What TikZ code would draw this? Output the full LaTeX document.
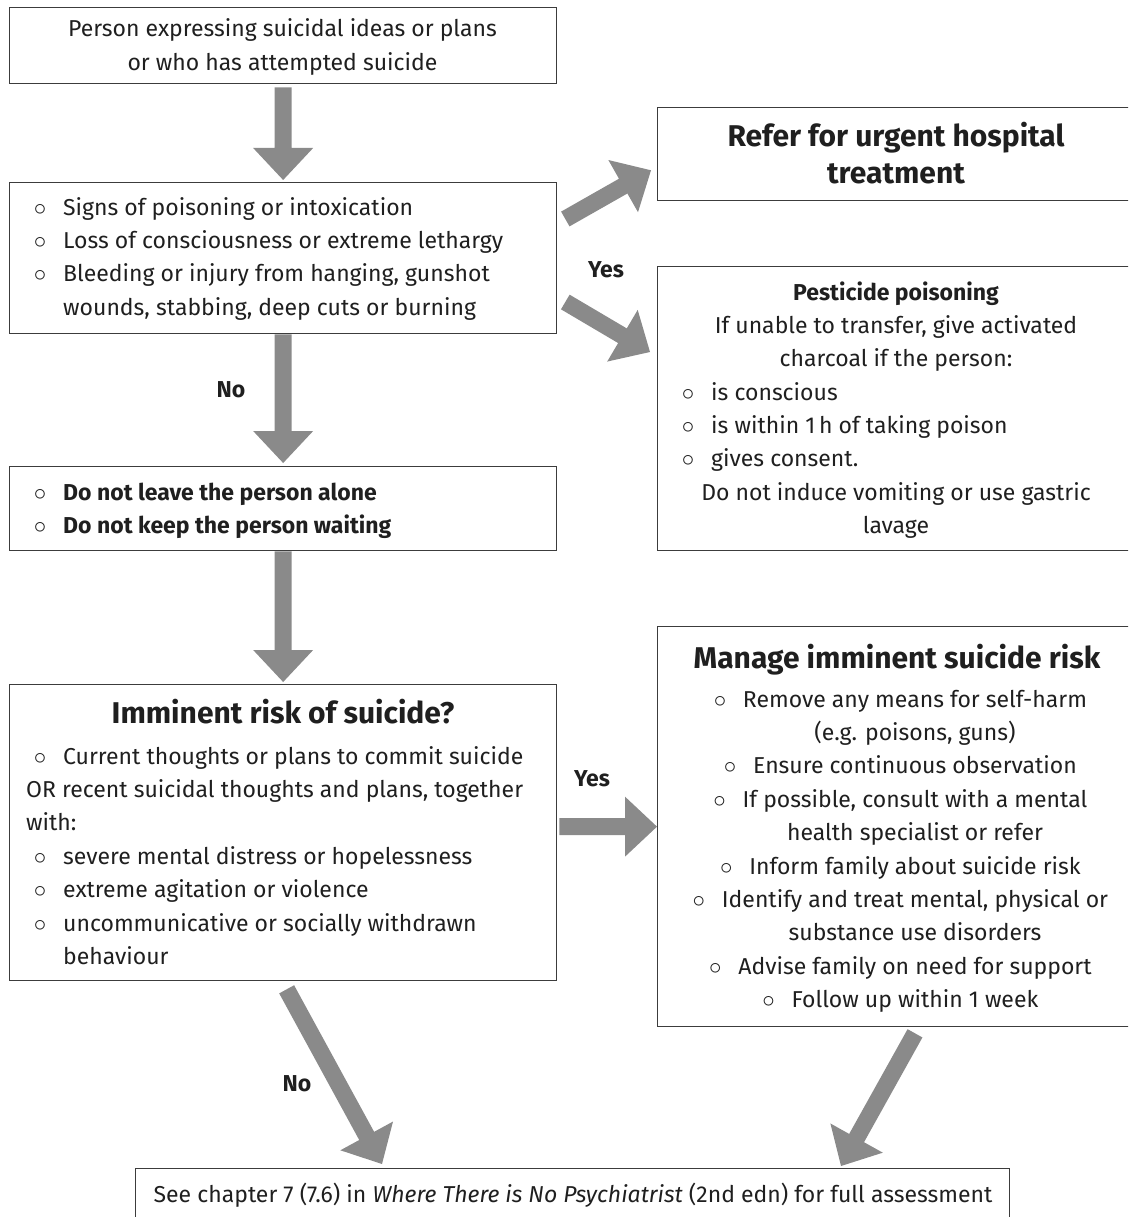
\documentclass[tikz,border=0pt]{standalone}
\usepackage{fontspec}
\setmainfont{Fira Sans}
\usetikzlibrary{calc}
\definecolor{arrowgray}{HTML}{8A8A8A}
\definecolor{boxline}{HTML}{3C3C3C}
\definecolor{txtc}{HTML}{1F1F1F}
\newcommand\fsn{\fontsize{23}{33.4}\selectfont}
\newcommand\fst{\fontsize{30}{36}\selectfont\bfseries}
\newcommand\bl{\llap{\makebox[23pt][l]{\makebox[0pt][c]{$\circ$}}}}
\newcommand\fatarrow[2]{%
  \coordinate (fah) at ($(#2)!32pt!(#1)$);
  \fill[arrowgray] ($(#1)!8.5pt!90:(#2)$) -- ($(fah)!8.5pt!-90:(#1)$) --
    ($(fah)!30pt!-90:(#1)$) -- (#2) -- ($(fah)!30pt!90:(#1)$) --
    ($(fah)!8.5pt!90:(#1)$) -- ($(#1)!8.5pt!-90:(#2)$) -- cycle;}
\tikzset{
  box/.style={draw=boxline, line width=1.3pt, inner sep=0pt, anchor=north west},
  txt/.style={inner sep=0pt, text=txtc, font=\fsn},
  lbl/.style={inner sep=0pt, text=txtc, font=\fsn\bfseries},
}
\begin{document}
\begin{tikzpicture}[x=1pt,y=-1pt]
\useasboundingbox (0,0) rectangle (1128,1217);
\clip (0,0) rectangle (1128,1217);
% boxes
\node[box, minimum width=547pt, minimum height=76pt] (b1) at (9,7) {};
\node[box, minimum width=547pt, minimum height=151pt] (b2) at (9,182) {};
\node[box, minimum width=547pt, minimum height=84pt] (b3) at (9,466) {};
\node[box, minimum width=547pt, minimum height=296pt] (b4) at (9,684) {};
\node[box, minimum width=500pt, minimum height=93pt] (b5) at (657,107) {};
\node[box, minimum width=500pt, minimum height=284pt] (b6) at (657,266) {};
\node[box, minimum width=500pt, minimum height=400pt] (b7) at (657,626) {};
\node[box, minimum width=874pt, minimum height=80pt] (b8) at (135,1168) {};
% texts
\node[txt, anchor=base] (t1) at (282.5,37) {\begin{tabular}[t]{@{}c@{}}Person expressing suicidal ideas or plans\\ or who has attempted suicide\end{tabular}};
\node[txt, anchor=base west] (t2) at (63,215) {\begin{tabular}[t]{@{}l@{}}\bl Signs of poisoning or intoxication\\ \bl Loss of consciousness or extreme lethargy\\ \bl Bleeding or injury from hanging, gunshot\\ wounds, stabbing, deep cuts or burning\end{tabular}};
\node[txt, anchor=base west, font=\fsn\bfseries] (t3) at (63,500) {\begin{tabular}[t]{@{}l@{}}\bl Do not leave the person alone\\ \bl Do not keep the person waiting\end{tabular}};
\node[txt, anchor=base, font=\fst] (t4a) at (283,723) {Imminent risk of suicide?};
\node[txt, anchor=base west] (t4b) at (26,764) {\begin{tabular}[t]{@{}l@{}}\hspace{37pt}\bl Current thoughts or plans to commit suicide\\ OR recent suicidal thoughts and plans, together\\ with:\\ \hspace{37pt}\bl severe mental distress or hopelessness\\ \hspace{37pt}\bl extreme agitation or violence\\ \hspace{37pt}\bl uncommunicative or socially withdrawn\\ \hspace{37pt}behaviour\end{tabular}};
\node[txt, anchor=base, font=\fst] (t5) at (896,147) {\begin{tabular}[t]{@{}c@{}}Refer for urgent hospital\\ treatment\end{tabular}};
\node[txt, anchor=base] (t6a) at (896,300) {\begin{tabular}[t]{@{}c@{}}\textbf{Pesticide poisoning}\\ If unable to transfer, give activated\\ charcoal if the person:\end{tabular}};
\node[txt, anchor=base west] (t6b) at (711,400) {\begin{tabular}[t]{@{}l@{}}\bl is conscious\\ \bl is within 1\,h of taking poison\\ \bl gives consent.\end{tabular}};
\node[txt, anchor=base] (t6c) at (896,500) {\begin{tabular}[t]{@{}c@{}}Do not induce vomiting or use gastric\\ lavage\end{tabular}};
\node[txt, anchor=base, font=\fst] (t7a) at (897,668) {Manage imminent suicide risk};
\node[txt, anchor=base] (t7b) at (915,707) {\begin{tabular}[t]{@{}c@{}}\bl Remove any means for self-harm\\ (e.g. poisons, guns)\\ \bl Ensure continuous observation\\ \bl If possible, consult with a mental\\ health specialist or refer\\ \bl Inform family about suicide risk\\ \bl Identify and treat mental, physical or\\ substance use disorders\\ \bl Advise family on need for support\\ \bl Follow up within 1 week\end{tabular}};
\node[txt, anchor=base] (t8) at (573,1202) {See chapter 7 (7.6) in \textit{Where There is No Psychiatrist} (2nd edn) for full assessment};
% labels
\node[lbl] (yes1) at (606,270) {Yes};
\node[lbl] (no1) at (231,390) {No};
\node[lbl] (yes2) at (592,779) {Yes};
\node[lbl] (no2) at (297,1084) {No};
% arrows
\coordinate (a1s) at ($(b1.south)+(0,3)$);
\coordinate (a1e) at ($(b2.north)+(0,-2)$);
\fatarrow{a1s}{a1e}
\coordinate (a2s) at (b2.south);
\coordinate (a2e) at ($(b3.north)+(0,-3)$);
\fatarrow{a2s}{a2e}
\coordinate (a3s) at (b3.south);
\coordinate (a3e) at ($(b4.north)+(0,-2)$);
\fatarrow{a3s}{a3e}
\coordinate (a4s) at ($(b4.east |- b7.west)+(2,0)$);
\coordinate (a4e) at (b7.west);
\fatarrow{a4s}{a4e}
\coordinate (a5s) at ($(b2.north east)+(8,37)$);
\coordinate (a5e) at ($(b5.south west)+(-6,-31)$);
\fatarrow{a5s}{a5e}
\coordinate (a6s) at ($(b2.north east)+(8,120)$);
\coordinate (a6e) at ($(b6.north west)+(-7,86)$);
\fatarrow{a6s}{a6e}
\coordinate (a7s) at ($(b4.south)+(3.5,8)$);
\coordinate (a7e) at ($(b8.north west)+(247,-4)$);
\fatarrow{a7s}{a7e}
\coordinate (a8s) at ($(b7.south west)+(258,6)$);
\coordinate (a8e) at ($(b8.north west)+(706,-2)$);
\fatarrow{a8s}{a8e}
\end{tikzpicture}
\end{document}
